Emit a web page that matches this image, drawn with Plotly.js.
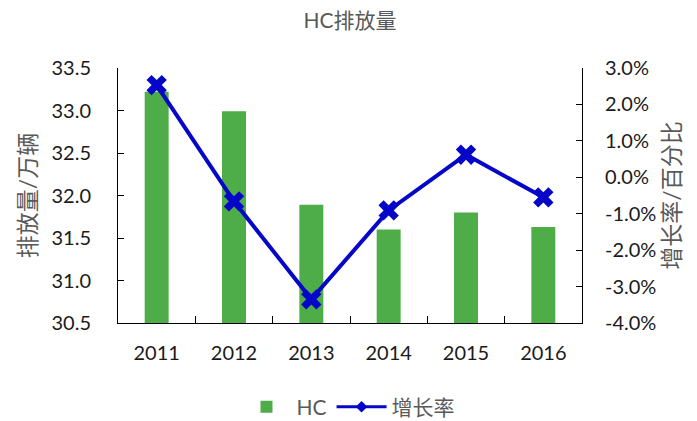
<!DOCTYPE html>
<html>
<head>
<meta charset="utf-8">
<script src="https://cdn.plot.ly/plotly-3.0.1.min.js"></script>
<style>
  html, body { margin: 0; padding: 0; background: #fff; }
  #chart { width: 697px; height: 421px; }
</style>
</head>
<body>
<div id="chart"></div>
<script>
// data
const years = ["2011", "2012", "2013", "2014", "2015", "2016"];
const hcEmission = [33.22, 32.99, 31.89, 31.60, 31.80, 31.63];
const growthRate = [0.0253, -0.0066, -0.0335, -0.0091, 0.0062, -0.0055];

const leftTicks = [30.5, 31.0, 31.5, 32.0, 32.5, 33.0, 33.5];
const rightTicks = [-0.04, -0.03, -0.02, -0.01, 0, 0.01, 0.02, 0.03];

const fontFamily = "Lato, 'Noto Sans CJK SC', sans-serif";
const green = "#4EAD48";
const blue = "#0606C8";

const bars = {
  x: years,
  y: hcEmission,
  type: "bar",
  name: "HC",
  marker: { color: green },
  width: 0.31,
};

const line = {
  x: years,
  y: growthRate,
  type: "scatter",
  mode: "lines+markers",
  name: "增长率",
  yaxis: "y2",
  line: { color: blue, width: 4 },
  marker: { symbol: "x", size: 18, color: blue },
  showlegend: false,
};

// legend entry looks like the excel one: line with a small diamond
const lineLegend = {
  x: [null],
  y: [null],
  type: "scatter",
  mode: "lines+markers",
  name: "增长率",
  yaxis: "y2",
  line: { color: blue, width: 3 },
  marker: { symbol: "diamond", size: 9, color: blue },
};

const layout = {
  width: 697,
  height: 421,
  margin: { l: 118, r: 115, t: 68, b: 98 },
  paper_bgcolor: "#fff",
  plot_bgcolor: "#fff",
  font: { family: fontFamily, size: 20, color: "#1a1a1a" },
  title: {
    text: "HC排放量",
    font: { size: 21, color: "#595959" },
    x: 0.5,
    xanchor: "center",
    xref: "paper",
    y: 0.95,
    yanchor: "middle",
  },
  showlegend: true,
  legend: {
    orientation: "h",
    xref: "container",
    yref: "container",
    x: 0.5,
    xanchor: "center",
    y: 0.033,
    yanchor: "middle",
    font: { size: 21, color: "#595959" },
    itemwidth: 50,
    traceorder: "normal",
  },
  xaxis: {
    type: "category",
    automargin: false,
    showline: true,
    linecolor: "#000",
    linewidth: 1,
    ticks: "inside",
    ticklen: 7,
    tickcolor: "#000",
    tickson: "boundaries",
    ticklabelstandoff: 12,
    showgrid: false,
    zeroline: false,
  },
  yaxis: {
    range: [30.5, 33.5],
    automargin: false,
    tickvals: leftTicks,
    ticktext: leftTicks.map((v) => v.toFixed(1)),
    showline: true,
    linecolor: "#000",
    linewidth: 1,
    ticks: "inside",
    ticklen: 6,
    tickcolor: "#000",
    ticklabelstandoff: 22,
    showgrid: false,
    zeroline: false,
    title: { text: "排放量/万辆", font: { size: 23, color: "#595959" }, standoff: 8 },
  },
  yaxis2: {
    overlaying: "y",
    side: "right",
    automargin: false,
    range: [-0.04, 0.03],
    tickvals: rightTicks,
    ticktext: rightTicks.map((v) => (v * 100).toFixed(1) + "%"),
    showline: true,
    linecolor: "#000",
    linewidth: 1,
    ticks: "inside",
    ticklen: 6,
    tickcolor: "#000",
    ticklabelstandoff: 18,
    showgrid: false,
    zeroline: false,
    title: { text: "增长率/百分比", font: { size: 23, color: "#595959" }, standoff: 8 },
  },
};

Plotly.newPlot("chart", [bars, line, lineLegend], layout, { displayModeBar: false, staticPlot: true });
</script>
</body>
</html>
